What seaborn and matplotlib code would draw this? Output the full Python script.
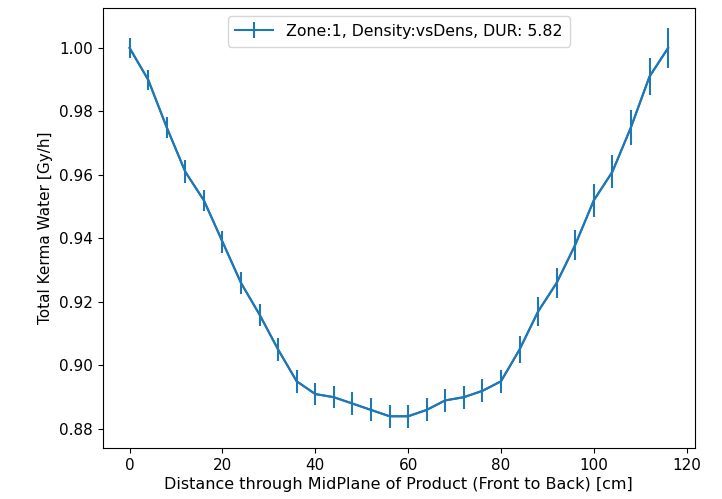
import matplotlib
matplotlib.use("Agg")
import matplotlib.pyplot as plt
import seaborn as sns
import numpy as np
import pandas as pd

distance = [0, 4, 8, 12, 16, 20, 24, 28, 32, 36, 40, 44, 48, 52, 56,
            60, 64, 68, 72, 76, 80, 84, 88, 92, 96, 100, 104, 108, 112, 116]
kerma = [1.000, 0.990, 0.975, 0.961, 0.952, 0.939, 0.926, 0.916, 0.905, 0.895,
         0.891, 0.890, 0.888, 0.886, 0.884, 0.884, 0.886, 0.889, 0.890, 0.892,
         0.895, 0.905, 0.917, 0.926, 0.938, 0.952, 0.961, 0.975, 0.991, 1.000]
kerma_err = [0.0033, 0.0031, 0.0034, 0.0036, 0.0034, 0.0035, 0.0035, 0.0035, 0.0035, 0.0037,
             0.0034, 0.0035, 0.0035, 0.0036, 0.0036, 0.0037, 0.0036, 0.0036, 0.0036, 0.0036,
             0.0037, 0.0042, 0.0045, 0.0046, 0.0048, 0.0053, 0.0052, 0.0055, 0.0058, 0.0063]
label = "Zone:1, Density:vsDens, DUR: 5.82"

df = pd.DataFrame({"distance": distance, "kerma": kerma})

plt.rcParams["font.size"] = 11

fig = plt.figure(figsize=(7.22, 4.99), dpi=100)
ax = fig.add_axes([0.1422, 0.1022, 0.8204, 0.8818])

sns.lineplot(data=df, x="distance", y="kerma", ax=ax, color="#1f77b4", linewidth=1.5, legend=False)
ax.errorbar(distance, kerma, yerr=kerma_err, color="#1f77b4", linewidth=1.5,
            elinewidth=1.5, label=label)

ax.set_xlabel("Distance through MidPlane of Product (Front to Back) [cm]", fontsize=11.5, labelpad=3)
ax.set_ylabel("Total Kerma Water [Gy/h]", fontsize=11)
ax.set_xticks([0, 20, 40, 60, 80, 100, 120])
ax.set_yticks([0.88, 0.90, 0.92, 0.94, 0.96, 0.98, 1.00])
ax.yaxis.set_major_formatter(matplotlib.ticker.FormatStrFormatter("%.2f"))
ax.legend(loc="upper center", fontsize=11.3, handlelength=2.4, borderpad=0.5)

fig.savefig("out.png", dpi=100)
